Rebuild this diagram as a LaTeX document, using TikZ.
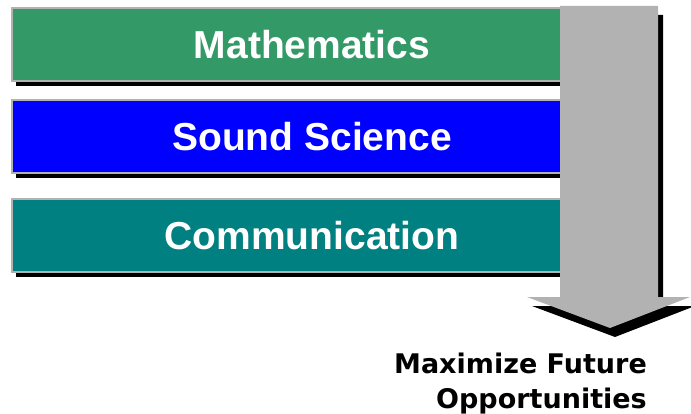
\documentclass[tikz,border=0pt]{standalone}
\usepackage{fontspec}
\setmainfont{Liberation Sans}
\newfontfamily\verd{DejaVu Sans}
\usetikzlibrary{shadows}
\definecolor{mgreen}{RGB}{51,153,102}
\definecolor{mblue}{RGB}{0,0,255}
\definecolor{mteal}{RGB}{0,128,128}
\definecolor{mgray}{RGB}{178,178,178}
\begin{document}
\begin{tikzpicture}[x=1pt,y=-1pt,
  bar/.style={draw=mgray, line width=2pt, minimum width=600pt, minimum height=73pt,
    inner sep=0pt, anchor=north west, text=white,
    font=\fontsize{39}{44}\selectfont\bfseries,
    drop shadow={shadow xshift=4pt, shadow yshift=-5pt, fill=black, opacity=1}},
  arrowfill/.style={fill=mgray},
  arrowshadow/.style={fill=black}
]
\useasboundingbox (0,0) rectangle (691,414);
\node[bar, fill=mgreen] (math) at (11,7) {Mathematics};
\node[bar, fill=mblue] (sound) at (11,99) {Sound Science};
\node[bar, fill=mteal] (comm) at (11,198) {Communication};
\begin{scope}[shift={(5,9)}]
\fill[arrowshadow] (560,6) -- (658,6) -- (658,297) -- (690,297) -- (610,328) -- (527,297) -- (560,297) -- cycle;
\end{scope}
\fill[arrowfill] (560,6) -- (658,6) -- (658,297) -- (690,297) -- (610,328) -- (527,297) -- (560,297) -- cycle;
\node[anchor=base east, align=right, inner sep=0pt,
  font=\verd\bfseries\fontsize{27}{35}\selectfont] (goal) at (647,408) {Maximize Future\\Opportunities};
\end{tikzpicture}
\end{document}
